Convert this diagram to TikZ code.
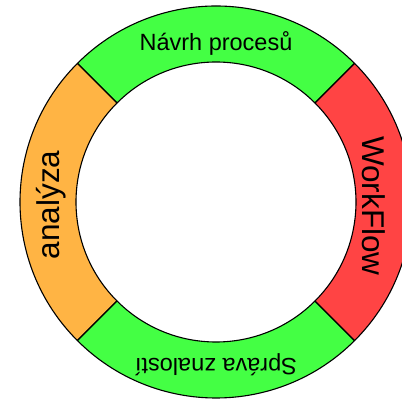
\documentclass[tikz,border=0pt]{standalone}
\usepackage{fontspec}
\setmainfont{Liberation Sans}
\definecolor{segGreen}{RGB}{68,255,68}
\definecolor{segOrange}{RGB}{255,180,68}
\definecolor{segRed}{RGB}{255,68,68}
\tikzset{
  seg/.style={draw=black, line width=1.1pt, line join=round},
  lab/.style={inner sep=0pt, anchor=center, text=black},
  smalllab/.style={lab, font=\fontsize{23.5}{26}\selectfont},
  biglab/.style={lab, font=\fontsize{31.5}{34}\selectfont},
}
\newcommand{\ringseg}[3]{%
  \draw[seg, fill=#3, shift={(216,199)}] (#1:196) arc[start angle=#1, end angle=#2, radius=196]
    -- (#2:140) arc[start angle=#2, end angle=#1, radius=140] -- cycle;}
\begin{document}
\begin{tikzpicture}[x=1pt,y=1pt]
\useasboundingbox (0,0) rectangle (402,401);
\clip (0,0) rectangle (402,401);
\ringseg{45}{135}{segGreen}
\ringseg{135}{225}{segOrange}
\ringseg{225}{315}{segGreen}
\ringseg{-45}{45}{segRed}
\node[smalllab] (navrh) at (216,358) {Návrh procesů};
\node[smalllab, rotate=180] (sprava) at (216,36) {Správa znalostí};
\node[biglab, rotate=90] (analyza) at (51,196) {analýza};
\node[biglab, rotate=-90] (workflow) at (374,195) {WorkFlow};
\end{tikzpicture}
\end{document}
